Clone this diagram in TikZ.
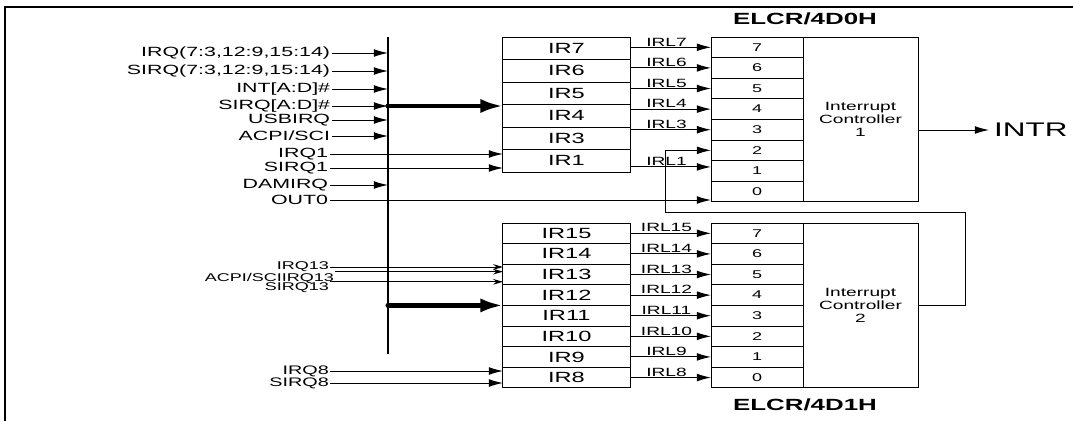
\documentclass[tikz,border=0pt]{standalone}
\usepackage{fontspec}
\setmainfont{Liberation Sans}[FakeStretch=1.6]
\usetikzlibrary{arrows.meta, positioning}

\begin{document}
\begin{tikzpicture}[
        x=0.025cm, y=-0.025cm,
        line width=0.7pt,
        every node/.style={font=\fontsize{9.5}{10}\selectfont},
        irbox/.style={draw, outer sep=0pt, inner sep=0pt, minimum width=3.175cm, minimum height=0.515cm, font=\fontsize{10.5}{11}\selectfont},
        irtop/.style={irbox, minimum height=0.5625cm},
        pinbox/.style={draw, outer sep=0pt, inner sep=0pt, minimum width=2.3cm, minimum height=0.515cm, font=\fontsize{8}{9}\selectfont},
        ctrl/.style={draw, outer sep=0pt, minimum width=2.875cm, minimum height=4.12cm, align=center, font=\fontsize{8.5}{9.5}\selectfont},
        inlbl/.style={anchor=east, inner sep=1pt},
        smalllbl/.style={inlbl, inner sep=0.5pt, font=\fontsize{8}{8}\selectfont},
        irl/.style={above, pos=0.45, inner sep=0.5pt, font=\fontsize{8.5}{9}\selectfont},
        sig/.style={-{Latex[length=10pt,width=5.5pt]}},
        sigs/.style={-{Stealth[length=7pt,width=4pt]}},
        fat/.style={line width=3pt, -{Latex[length=16pt,width=10pt]}}
        ]
        \useasboundingbox (0,0) rectangle (1073,421);
        \draw[line width=1pt] (5,421) |- (1073,7);

        % IR registers, first stage
        \node[irtop] (ir7) at (566.5,48.25) {IR7};
        \node[irtop, below=0pt of ir7] (ir6) {IR6};
        \node[irtop, below=0pt of ir6] (ir5) {IR5};
        \node[irtop, below=0pt of ir5] (ir4) {IR4};
        \node[irtop, below=0pt of ir4] (ir3) {IR3};
        \node[irtop, below=0pt of ir3] (ir1) {IR1};

        % IR registers, second stage
        \node[irbox] (ir15) at (566.5,233.3) {IR15};
        \node[irbox, below=0pt of ir15] (ir14) {IR14};
        \node[irbox, below=0pt of ir14] (ir13) {IR13};
        \node[irbox, below=0pt of ir13] (ir12) {IR12};
        \node[irbox, below=0pt of ir12] (ir11) {IR11};
        \node[irbox, below=0pt of ir11] (ir10) {IR10};
        \node[irbox, below=0pt of ir10] (ir9) {IR9};
        \node[irbox, below=0pt of ir9] (ir8) {IR8};

        % Controller 1
        \node[pinbox] (c1r7) at (757,47.3) {7};
        \node[pinbox, below=0pt of c1r7] (c1r6) {6};
        \node[pinbox, below=0pt of c1r6] (c1r5) {5};
        \node[pinbox, below=0pt of c1r5] (c1r4) {4};
        \node[pinbox, below=0pt of c1r4] (c1r3) {3};
        \node[pinbox, below=0pt of c1r3] (c1r2) {2};
        \node[pinbox, below=0pt of c1r2] (c1r1) {1};
        \node[pinbox, below=0pt of c1r1] (c1r0) {0};
        \node[ctrl, anchor=north west] (pic1) at (c1r7.north east) {Interrupt\\Controller\\1};

        % Controller 2
        \node[pinbox] (c2r7) at (757,233.3) {7};
        \node[pinbox, below=0pt of c2r7] (c2r6) {6};
        \node[pinbox, below=0pt of c2r6] (c2r5) {5};
        \node[pinbox, below=0pt of c2r5] (c2r4) {4};
        \node[pinbox, below=0pt of c2r4] (c2r3) {3};
        \node[pinbox, below=0pt of c2r3] (c2r2) {2};
        \node[pinbox, below=0pt of c2r2] (c2r1) {1};
        \node[pinbox, below=0pt of c2r1] (c2r0) {0};
        \node[ctrl, anchor=north west] (pic2) at (c2r7.north east) {Interrupt\\Controller\\2};

        \node[font=\bfseries\fontsize{11.5}{12}\selectfont] (elcr1) at (805,19) {ELCR/4D0H};
        \node[font=\bfseries\fontsize{11.5}{12}\selectfont] (elcr2) at (805,405) {ELCR/4D1H};
        \node[anchor=west, font=\fontsize{14}{15}\selectfont] (intr) at (989,130) {INTR};

        % Input lines
        \coordinate (bustop) at (388,37);
        \coordinate (busbot) at (388,354);
        \draw[line width=1.2pt] (bustop) -- (busbot);

        \node[inlbl] (lirq) at (332,53) {IRQ(7:3,12:9,15:14)};
        \node[inlbl] (lsirq) at (332,71) {SIRQ(7:3,12:9,15:14)};
        \node[inlbl] (lint) at (332,89) {INT[A:D]\#};
        \node[inlbl] (lsirqad) at (332,106) {SIRQ[A:D]\#};
        \node[inlbl] (lusb) at (332,120) {USBIRQ};
        \node[inlbl] (lacpi) at (332,136) {ACPI/SCI};
        \node[inlbl] (lirq1) at (330,154) {IRQ1};
        \node[inlbl] (lsirq1) at (330,168) {SIRQ1};
        \node[inlbl] (ldam) at (330,185) {DAMIRQ};
        \node[inlbl] (lout0) at (330,200) {OUT0};
        \node[smalllbl] (lirq13) at (330,267) {IRQ13};
        \node[smalllbl] (lacpi13) at (335,278) {ACPI/SCIIRQ13};
        \node[smalllbl] (lsirq13) at (330,288) {SIRQ13};
        \node[smalllbl, font=\fontsize{8.8}{9}\selectfont] (lirq8) at (330,371) {IRQ8};
        \node[smalllbl, font=\fontsize{8.8}{9}\selectfont] (lsirq8) at (330,383) {SIRQ8};

        \draw[sig] (lirq.east) -- (lirq.east -| bustop);
        \draw[sig] (lsirq.east) -- (lsirq.east -| bustop);
        \draw[sig] (lint.east) -- (lint.east -| bustop);
        \draw[sig] (lsirqad.east) -- (lsirqad.east -| bustop);
        \draw[sig] (lusb.east) -- (lusb.east -| bustop);
        \draw[sig] (lacpi.east) -- (lacpi.east -| bustop);
        \draw[sig] (ldam.east) -- (ldam.east -| bustop);
        \draw[sig] (lirq1.east) -- (lirq1.east -| ir1.west);
        \draw[sig] (lsirq1.east) -- (lsirq1.east -| ir1.west);
        \draw[sig] (lout0.east) -- (lout0.east -| c1r0.west);
        \draw[sigs] (lirq13.east) -- (lirq13.east -| ir13.west);
        \draw[sigs] (lacpi13.north east) -- (lacpi13.north east -| ir13.west);
        \draw[sigs] (lsirq13.north east) -- (lsirq13.north east -| ir13.west);
        \draw[sig] (lirq8.east) -- (lirq8.east -| ir8.west);
        \draw[sig] (lsirq8.east) -- (lsirq8.east -| ir8.west);

        % Bus to registers
        \fill (lsirqad.east -| bustop) circle (1.8pt);
        \draw[fat] (lsirqad.east -| bustop) -- (lsirqad.east -| ir4.west);
        \fill (bustop |- ir12.south west) circle (1.8pt);
        \draw[fat] (bustop |- ir12.south west) -- (ir12.south west);

        % IRL lines
        \coordinate (irl1) at ([yshift=1mm]c1r1.west);
        \draw[sig] (ir7.east |- c1r7) -- node[irl] {IRL7} (c1r7.west);
        \draw[sig] (ir7.east |- c1r6) -- node[irl] {IRL6} (c1r6.west);
        \draw[sig] (ir7.east |- c1r5) -- node[irl] {IRL5} (c1r5.west);
        \draw[sig] (ir7.east |- c1r4) -- node[irl] {IRL4} (c1r4.west);
        \draw[sig] (ir7.east |- c1r3) -- node[irl] {IRL3} (c1r3.west);
        \draw[sig] (ir1.east |- irl1) -- node[irl] {IRL1} (irl1);
        \draw[sig] (ir15.east) -- node[irl] {IRL15} (c2r7.west);
        \draw[sig] (ir14.east) -- node[irl] {IRL14} (c2r6.west);
        \draw[sig] (ir13.east) -- node[irl] {IRL13} (c2r5.west);
        \draw[sig] (ir12.east) -- node[irl] {IRL12} (c2r4.west);
        \draw[sig] (ir11.east) -- node[irl] {IRL11} (c2r3.west);
        \draw[sig] (ir10.east) -- node[irl] {IRL10} (c2r2.west);
        \draw[sig] (ir9.east) -- node[irl] {IRL9} (c2r1.west);
        \draw[sig] (ir8.east) -- node[irl] {IRL8} (c2r0.west);

        % Cascade and output
        \coordinate (casr) at (965,212);
        \coordinate (casl) at (665,212);
        \draw[sig] (pic2.east) -| (casr) -- (casl) |- (c1r2.west);
        \draw[sig] (pic1.east |- intr) -- (intr.west);
    \end{tikzpicture}
\end{document}
